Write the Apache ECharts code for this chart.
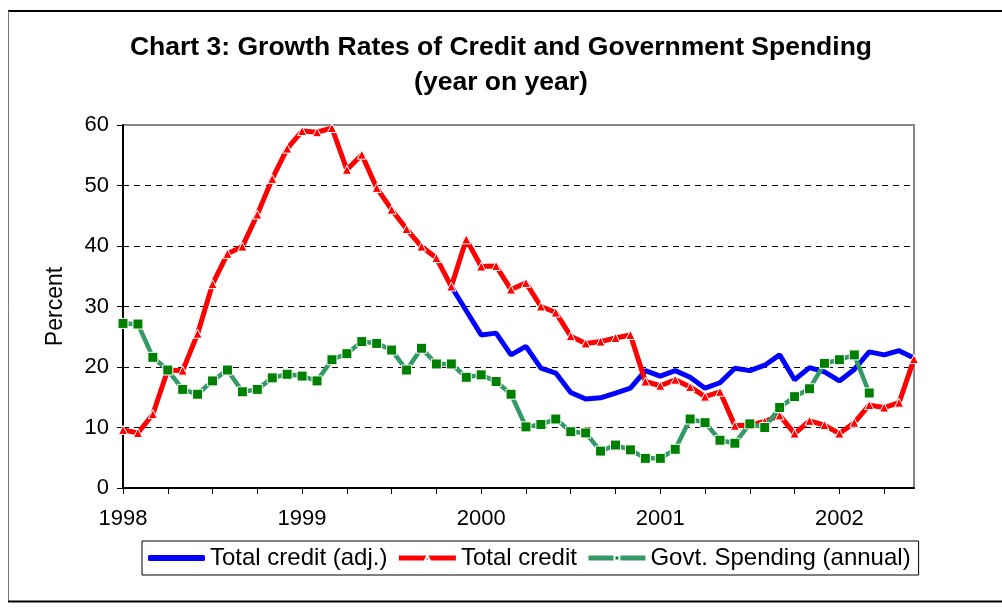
<!DOCTYPE html>
<html>
<head>
<meta charset="utf-8">
<script src="https://cdn.jsdelivr.net/npm/echarts@6/dist/echarts.min.js"></script>
<style>
html,body{margin:0;padding:0;background:#fff;}
#chart{width:1002px;height:614px;}
</style>
</head>
<body>
<div id="chart"></div>
<script>
// Monthly categories Jan 1998 .. Jun 2002
var years = ['1998','1999','2000','2001','2002'];
var months = ['01','02','03','04','05','06','07','08','09','10','11','12'];
var categories = [];
years.forEach(function(y){ months.forEach(function(m){ categories.push(y + '-' + m); }); });
categories = categories.slice(0, 54);

var totalCreditAdj = [null,null,null,null,null,null,null,null,null,null,null,null,
  null,null,null,null,null,null,null,null,null,null,
  33.3,29.3,25.3,25.6,22.0,23.4,19.8,19.0,15.8,14.7,14.9,15.7,16.5,19.4,
  18.5,19.4,18.3,16.5,17.4,19.8,19.4,20.3,22.0,17.9,19.9,19.2,
  17.7,19.6,22.5,22.0,22.7,21.5];

var totalCredit = [9.6,9.1,12.2,19.5,19.4,25.5,33.7,38.7,39.9,45.2,51.1,56.1,
  59.0,58.8,59.5,52.6,55.1,49.6,46.0,42.8,39.9,38.0,33.3,41.1,
  36.6,36.7,32.8,33.9,30.0,29.0,25.1,23.9,24.2,24.8,25.3,17.6,
  16.9,17.9,16.7,15.1,15.9,10.3,10.4,11.0,12.0,9.0,11.1,10.4,
  9.0,10.8,13.7,13.3,14.1,21.3];

var govtSpending = [27.2,27.1,21.6,19.5,16.3,15.5,17.7,19.5,15.9,16.3,18.2,18.8,
  18.5,17.7,21.2,22.2,24.2,23.9,22.8,19.5,23.1,20.5,20.5,18.3,
  18.7,17.6,15.5,10.1,10.5,11.4,9.3,9.1,6.1,7.1,6.3,4.9,
  4.9,6.4,11.4,10.8,7.9,7.4,10.6,10.0,13.3,15.1,16.4,20.6,
  21.2,22.0,15.7,null,null,null];

var seriesNames = ['Total credit (adj.)','Total credit','Govt. Spending (annual)'];
var titleText = 'Chart 3: Growth Rates of Credit and Government Spending\n(year on year)';
var yAxisName = 'Percent';

var FONT = 'Liberation Sans, Arial, sans-serif';
var chart = echarts.init(document.getElementById('chart'), null, {renderer:'canvas'});
chart.setOption({
  backgroundColor:'#ffffff',
  animation:false,
  title:{
    text:titleText,
    left:'center', top:25,
    textStyle:{fontFamily:FONT, fontSize:26.5, fontWeight:'bold', color:'#000', lineHeight:35}
  },
  graphic:[
    {type:'line', shape:{x1:8,y1:11,x2:1002,y2:11}, style:{stroke:'#000',lineWidth:2}},
    {type:'line', shape:{x1:8.5,y1:11,x2:8.5,y2:602}, style:{stroke:'#777',lineWidth:1}},
    {type:'line', shape:{x1:8,y1:601.5,x2:1002,y2:601.5}, style:{stroke:'#000',lineWidth:2}}
  ],
  grid:{left:123, right:88, top:125, bottom:126, show:true, borderColor:'#888', borderWidth:2, backgroundColor:'transparent'},
  legend:{
    data:[{name:seriesNames[0], icon:'roundRect'}, {name:seriesNames[1]}, {name:seriesNames[2]}],
    left:142, top:541,
    padding:[5,8,5,6],
    itemGap:9,
    itemWidth:57, itemHeight:6,
    borderColor:'#000', borderWidth:1,
    lineStyle:{width:5},
    textStyle:{fontFamily:FONT, fontSize:24, color:'#000'}
  },
  xAxis:{
    type:'category',
    data:categories,
    boundaryGap:false,
    axisLine:{lineStyle:{color:'#000',width:2}},
    axisTick:{interval:2, length:6, lineStyle:{color:'#000',width:1}},
    axisLabel:{interval:11, margin:20, fontFamily:FONT, fontSize:22, color:'#000',
      formatter:function(v){ return v.slice(0,4); }},
    splitLine:{show:false}
  },
  yAxis:{
    type:'value', min:0, max:60, interval:10,
    name:yAxisName, nameLocation:'middle', nameGap:56, nameRotate:90,
    nameTextStyle:{fontFamily:FONT, fontSize:23, color:'#000'},
    axisLine:{show:true, lineStyle:{color:'#000',width:2}},
    axisTick:{show:true, length:6, lineStyle:{color:'#000'}},
    axisLabel:{margin:14, fontFamily:FONT, fontSize:22, color:'#000'},
    splitLine:{show:true, showMaxLine:false, showMinLine:false, lineStyle:{color:'#000', type:[6,5], width:1}}
  },
  series:[
    {name:seriesNames[0], type:'line', data:totalCreditAdj, symbol:'none', connectNulls:false,
      lineStyle:{color:'#0000ff', width:5}, itemStyle:{color:'#0000ff'}, z:2},
    {name:seriesNames[1], type:'line', data:totalCredit, symbol:'triangle', symbolSize:9, showAllSymbol:true,
      lineStyle:{color:'#ff0000', width:5}, itemStyle:{color:'#ff0000', borderColor:'#fff', borderWidth:1}, z:3},
    {name:seriesNames[2], type:'line', data:govtSpending, symbol:'rect', symbolSize:10, showAllSymbol:true,
      lineStyle:{color:'#339966', width:4.5}, itemStyle:{color:'#008000', borderColor:'#fff', borderWidth:1}, z:4}
  ]
});
</script>
</body>
</html>
